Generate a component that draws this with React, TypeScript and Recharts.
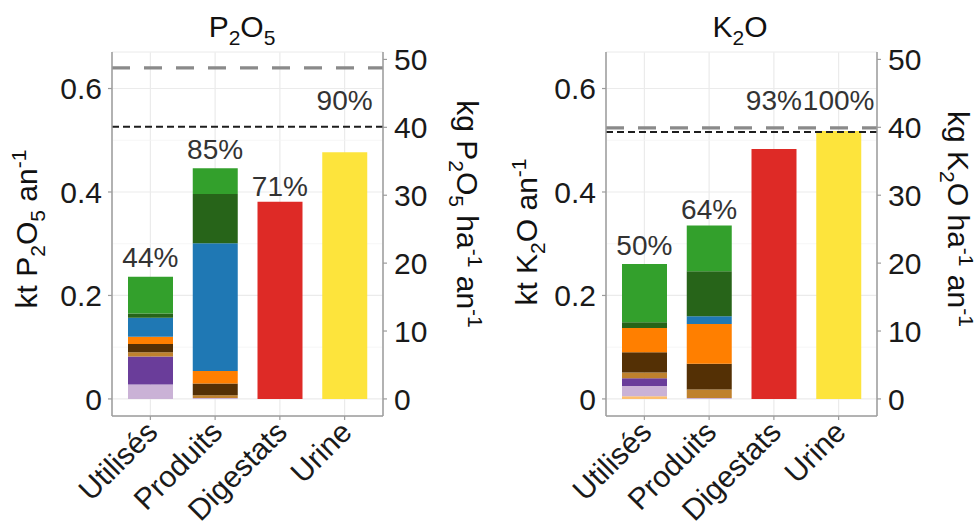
import React from 'react';
import { ComposedChart, Bar, Line, XAxis, YAxis, CartesianGrid, ReferenceLine } from 'recharts';

const FONT = '"Liberation Sans", Arial, Helvetica, sans-serif';

// ---------- data ----------
const categories = ['Utilisés', 'Produits', 'Digestats', 'Urine'];

// P2O5 (kt P2O5 / an), stacked from bottom to top
const pPeach = [0, 0, 0, 0];
const pLightPurple = [0.028, 0.002, 0, 0];
const pPurple = [0.054, 0, 0, 0];
const pPeru = [0.008, 0.005, 0, 0];
const pDarkBrown = [0.016, 0.023, 0, 0];
const pOrange = [0.014, 0.024, 0, 0];
const pBlue = [0.037, 0.247, 0, 0];
const pDarkGreen = [0.008, 0.095, 0, 0];
const pGreen = [0.071, 0.05, 0, 0];
const pDigestat = [0, 0, 0.381, 0];
const pUrine = [0, 0, 0, 0.477];
const pPctLabels = ['44%', '85%', '71%', '90%'];
const pPctY = [0.273, 0.482, 0.411, 0.576];
const pNeedGrey = 0.64;
const pNeedBlack = 0.526;

// K2O (kt K2O / an)
const kPeach = [0.005, 0, 0, 0];
const kLightPurple = [0.02, 0.002, 0, 0];
const kPurple = [0.015, 0, 0, 0];
const kPeru = [0.011, 0.016, 0, 0];
const kDarkBrown = [0.039, 0.05, 0, 0];
const kOrange = [0.047, 0.077, 0, 0];
const kBlue = [0, 0.015, 0, 0];
const kDarkGreen = [0.011, 0.087, 0, 0];
const kGreen = [0.113, 0.088, 0, 0];
const kDigestat = [0, 0, 0.483, 0];
const kUrine = [0, 0, 0, 0.518];
const kPctLabels = ['50%', '64%', '93%', '100%'];
const kPctY = [0.296, 0.367, 0.577, 0.577];
const kNeedGrey = 0.524;
const kNeedBlack = 0.516;

const leftTicks = [0, 0.2, 0.4, 0.6];
const minorTicks = [0.1, 0.3, 0.5];
const rightTicks = [0, 10, 20, 30, 40, 50];
const leftDomain: [number, number] = [-0.033, 0.6706];
const kgPerKt = 40 / 0.525;

// ---------- styles ----------
const segmentStyles = [
  { key: 'peach', color: '#fdbf6f' },
  { key: 'lightPurple', color: '#cab2d6' },
  { key: 'purple', color: '#6a3d9a' },
  { key: 'peru', color: '#bf812d' },
  { key: 'darkBrown', color: '#543005' },
  { key: 'orange', color: '#ff7f00' },
  { key: 'blue', color: '#1f78b4' },
  { key: 'darkGreen', color: '#276419' },
  { key: 'green', color: '#33a02c' },
  { key: 'digestat', color: '#de2a26' },
  { key: 'urine', color: '#fde43c' },
];

function buildRows(series: Record<string, number[]>, pct: string[], pctY: number[]) {
  return categories.map((cat, i) => {
    const row: Record<string, any> = { cat, pct: pct[i], labelY: pctY[i] };
    Object.keys(series).forEach((k) => {
      row[k] = series[k][i];
    });
    return row;
  });
}

const pRows = buildRows(
  {
    peach: pPeach, lightPurple: pLightPurple, purple: pPurple, peru: pPeru, darkBrown: pDarkBrown,
    orange: pOrange, blue: pBlue, darkGreen: pDarkGreen, green: pGreen, digestat: pDigestat, urine: pUrine,
  },
  pPctLabels,
  pPctY,
);
const kRows = buildRows(
  {
    peach: kPeach, lightPurple: kLightPurple, purple: kPurple, peru: kPeru, darkBrown: kDarkBrown,
    orange: kOrange, blue: kBlue, darkGreen: kDarkGreen, green: kGreen, digestat: kDigestat, urine: kUrine,
  },
  kPctLabels,
  kPctY,
);

const FRAME = '#9c9c9c';
const TICKTEXT = '#1a1a1a';

const XTick = (props: any) => {
  const { x, y, payload } = props;
  return (
    <text
      transform={`translate(${x + 9},${y + 12}) rotate(-45)`}
      textAnchor="end"
      fontSize={30}
      fontFamily={FONT}
      fill={TICKTEXT}
    >
      {payload.value}
    </text>
  );
};

const renderPct = (props: any) => {
  const { cx, cy, index, payload } = props;
  if (cx == null || cy == null) return <g key={`p-${index}`} />;
  return (
    <text
      key={`pct-${index}`}
      x={cx}
      y={cy}
      textAnchor="middle"
      dominantBaseline="central"
      fontSize={28}
      fontFamily={FONT}
      fill="#333333"
    >
      {payload.pct}
    </text>
  );
};

const fmtLeft = (v: number) => (v === 0 ? '0' : String(v));

function Panel({ rows, needGrey, needBlack }: { rows: any[]; needGrey: number; needBlack: number }) {
  return (
    <ComposedChart width={483} height={526} data={rows} margin={{ top: 52, right: 0, bottom: 0, left: 0 }}>
      <CartesianGrid stroke="#ebebeb" strokeWidth={1.2} />
      <CartesianGrid yAxisId="minor" vertical={false} stroke="#f4f4f4" strokeWidth={0.8} />
      <XAxis
        dataKey="cat"
        type="category"
        padding={{ left: 6, right: 6 }}
        height={110}
        axisLine={{ stroke: FRAME, strokeWidth: 1.5 }}
        tickLine={{ stroke: FRAME, strokeWidth: 1.2 }}
        tickSize={4}
        tickMargin={2}
        interval={0}
        tick={<XTick />}
      />
      <XAxis
        xAxisId="top"
        dataKey="cat"
        orientation="top"
        height={0}
        padding={{ left: 6, right: 6 }}
        axisLine={{ stroke: FRAME, strokeWidth: 1.5 }}
        tick={false}
        tickLine={false}
      />
      <YAxis
        type="number"
        domain={leftDomain}
        ticks={leftTicks}
        allowDataOverflow
        interval={0}
        width={112}
        tickFormatter={fmtLeft}
        axisLine={{ stroke: FRAME, strokeWidth: 1.5 }}
        tickLine={{ stroke: FRAME, strokeWidth: 1.2 }}
        tickSize={4}
        tickMargin={6}
        tick={{ fontSize: 30, fontFamily: FONT, fill: TICKTEXT }}
      />
      <YAxis yAxisId="minor" type="number" domain={leftDomain} ticks={minorTicks} allowDataOverflow hide />
      <YAxis
        yAxisId="right"
        orientation="right"
        type="number"
        domain={[leftDomain[0] * kgPerKt, leftDomain[1] * kgPerKt]}
        ticks={rightTicks}
        allowDataOverflow
        interval={0}
        width={100}
        axisLine={{ stroke: FRAME, strokeWidth: 1.5 }}
        tickLine={{ stroke: FRAME, strokeWidth: 1.2 }}
        tickSize={4}
        tickMargin={7}
        tick={{ fontSize: 30, fontFamily: FONT, fill: TICKTEXT }}
      />
      {segmentStyles.map((s) => (
        <Bar key={s.key} dataKey={s.key} stackId="a" fill={s.color} barSize={45} isAnimationActive={false} />
      ))}
      <ReferenceLine y={needGrey} stroke="#8a8a8a" strokeWidth={3.2} strokeDasharray="18 14" />
      <ReferenceLine y={needBlack} stroke="#1e1e1e" strokeWidth={2} strokeDasharray="7 4" />
      <Line
        dataKey="labelY"
        stroke="none"
        dot={renderPct}
        activeDot={false}
        legendType="none"
        isAnimationActive={false}
      />
    </ComposedChart>
  );
}

const titleStyle = { fontFamily: FONT, fill: '#111' } as const;

export default function App() {
  return (
    <div style={{ position: 'fixed', left: 0, top: 0, width: 977, height: 526, background: '#fff', overflow: 'hidden' }}>
      <div style={{ position: 'absolute', left: 0, top: 0 }}>
        <Panel rows={pRows} needGrey={pNeedGrey} needBlack={pNeedBlack} />
      </div>
      <div style={{ position: 'absolute', left: 494, top: 0 }}>
        <Panel rows={kRows} needGrey={kNeedGrey} needBlack={kNeedBlack} />
      </div>
      <svg width={977} height={526} style={{ position: 'absolute', left: 0, top: 0, pointerEvents: 'none' }}>
        {/* titles */}
        <text x={242} y={37} textAnchor="middle" fontSize={30} {...titleStyle}>
          P<tspan dy={8} fontSize={21}>2</tspan>
          <tspan dy={-8}>O</tspan>
          <tspan dy={8} fontSize={21}>5</tspan>
        </text>
        <text x={740} y={37} textAnchor="middle" fontSize={30} {...titleStyle}>
          K<tspan dy={8} fontSize={21}>2</tspan>
          <tspan dy={-8}>O</tspan>
        </text>
        {/* left axis titles */}
        <text transform="translate(37,229) rotate(-90)" textAnchor="middle" fontSize={30} {...titleStyle}>
          kt P<tspan dy={8} fontSize={21}>2</tspan>
          <tspan dy={-8}>O</tspan>
          <tspan dy={8} fontSize={21}>5</tspan>
          <tspan dy={-8}>{'\u00a0an'}</tspan>
          <tspan dy={-11} fontSize={21}>-1</tspan>
        </text>
        <text transform="translate(537,232) rotate(-90)" textAnchor="middle" fontSize={30} {...titleStyle}>
          kt K<tspan dy={8} fontSize={21}>2</tspan>
          <tspan dy={-8}>O</tspan>
          <tspan>{'\u00a0an'}</tspan>
          <tspan dy={-11} fontSize={21}>-1</tspan>
        </text>
        {/* right axis titles */}
        <text transform="translate(457,214) rotate(90)" textAnchor="middle" fontSize={30} {...titleStyle}>
          kg P<tspan dy={8} fontSize={21}>2</tspan>
          <tspan dy={-8}>O</tspan>
          <tspan dy={8} fontSize={21}>5</tspan>
          <tspan dy={-8}>{'\u00a0ha'}</tspan>
          <tspan dy={-11} fontSize={21}>-1</tspan>
          <tspan dy={11}>{'\u00a0an'}</tspan>
          <tspan dy={-11} fontSize={21}>-1</tspan>
        </text>
        <text transform="translate(948,219) rotate(90)" textAnchor="middle" fontSize={30} {...titleStyle}>
          kg K<tspan dy={8} fontSize={21}>2</tspan>
          <tspan dy={-8}>O</tspan>
          <tspan>{'\u00a0ha'}</tspan>
          <tspan dy={-11} fontSize={21}>-1</tspan>
          <tspan dy={11}>{'\u00a0an'}</tspan>
          <tspan dy={-11} fontSize={21}>-1</tspan>
        </text>
      </svg>
    </div>
  );
}
